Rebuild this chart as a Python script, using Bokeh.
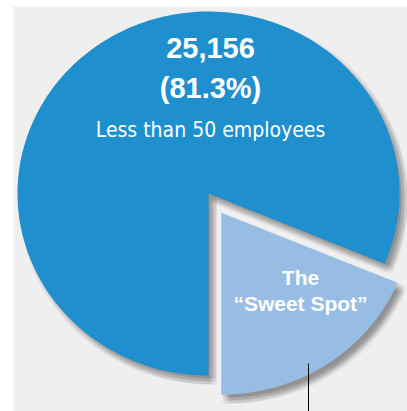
import numpy as np
from bokeh.plotting import figure
from bokeh.models import Range1d
from bokeh.core.properties import value
from bokeh.embed import file_html
from bokeh.resources import INLINE

# ---- data ----
segments = ["Less than 50 employees", "The \u201cSweet Spot\u201d"]
counts = [25156, 5786]
shares = [81.3, 18.7]
colors = ["#1f8fce", "#97bde4"]
explode = [0, 23]

W, H = 407, 411
p = figure(width=W, height=H, output_backend="svg", toolbar_location=None,
           x_range=Range1d(0, W), y_range=Range1d(H, 0), min_border=0)
p.axis.visible = False
p.grid.visible = False
p.outline_line_color = None
p.background_fill_color = "white"
p.border_fill_color = "white"

# panel
p.quad(left=13, right=W, top=6, bottom=H, fill_color="#efefef", line_color=None)

cx, cy, rx, ry = 208, 193, 191, 182
start = -np.pi / 2
fr = np.array(shares[::-1]) / 100.0  # small slice first, counterclockwise from bottom
order = [1, 0]
slices = []
a0 = start
for idx, f in zip(order, fr):
    a1 = a0 + 2 * np.pi * f
    t = np.linspace(a0, a1, 200)
    mid = (a0 + a1) / 2
    ox = explode[idx] * np.cos(mid)
    oy = -explode[idx] * np.sin(mid)
    xs = np.concatenate([[cx + ox], cx + ox + rx * np.cos(t)])
    ys = np.concatenate([[cy + oy], cy + oy - ry * np.sin(t)])
    slices.append((idx, xs, ys))
    a0 = a1

# shadows
for idx, xs, ys in slices:
    for jx in (-3, 0, 3):
        for jy in (-3, 0, 3):
            p.patch(xs + 5 + jx, ys + 6 + jy, fill_color="black", fill_alpha=0.05, line_color=None)

for idx, xs, ys in slices:
    p.patch(xs, ys, fill_color=colors[idx], line_color=None)

# labels
big = ["{:,}".format(counts[0]), "({}%)".format(shares[0])]
p.text(x=[210, 210], y=[47, 87], text=big, text_align="center", text_baseline="middle",
       text_color="white", text_font=value("Liberation Sans"), text_font_style="bold",
       text_font_size="29px")
p.text(x=[210], y=[129], text=[segments[0]], text_align="center", text_baseline="middle",
       text_color="white", text_font=value("'DejaVu Sans Condensed', 'Roboto'"),
       text_font_size="21px")
p.text(x=[300, 300], y=[277, 303], text=["The", "\u201cSweet Spot\u201d"], text_align="center",
       text_baseline="middle", text_color="white", text_font=value("Liberation Sans"),
       text_font_style="bold", text_font_size="21px")

p.segment(x0=[308], y0=[363], x1=[308], y1=[H], line_color="black", line_width=1)

open("out.html", "w").write(file_html(p, INLINE))
